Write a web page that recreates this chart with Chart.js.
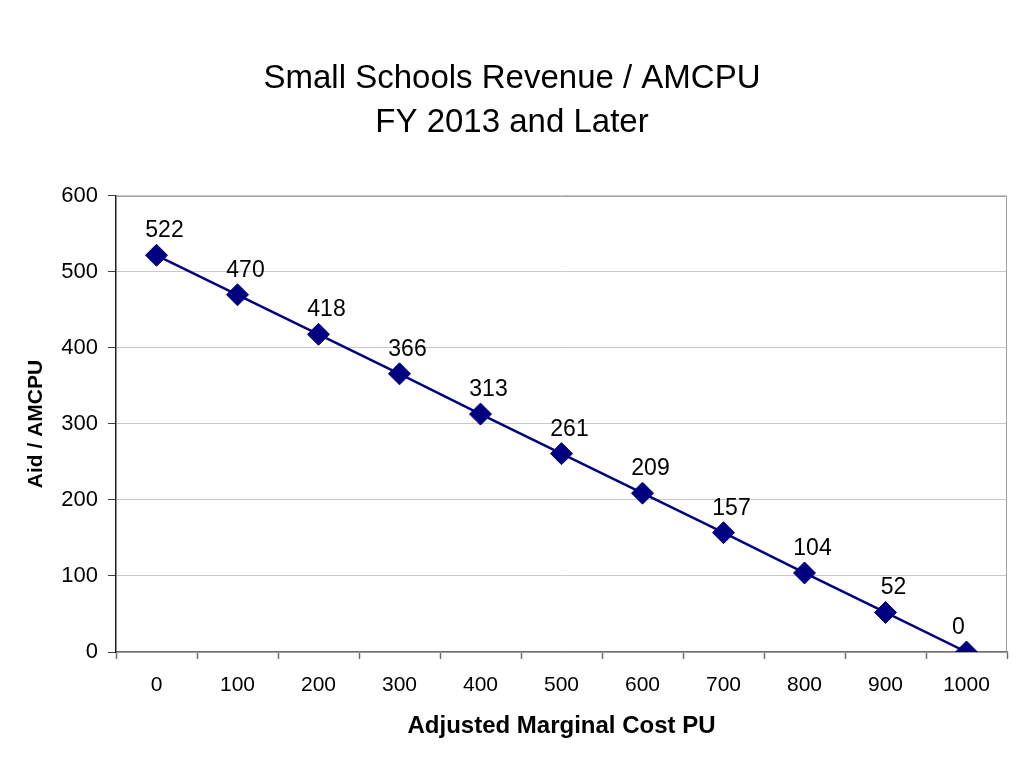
<!DOCTYPE html>
<html>
<head>
    <title>Small Schools Revenue / AMCPU</title>
    <style>
        html, body { margin: 0; padding: 0; background: #fff; }
        #wrap { width: 1024px; height: 768px; }
    </style>
</head>
<body>
    <div id="wrap"><canvas id="amcpuChart" width="1024" height="768"></canvas></div>

    <script src="https://cdn.jsdelivr.net/npm/chart.js"></script>
    <script>
        // values
        const costLabels = ['0', '100', '200', '300', '400', '500', '600', '700', '800', '900', '1000'];
        const aidValues = [522, 470, 418, 366, 313, 261, 209, 157, 104, 52, 0];
        const titleLines = ['Small Schools Revenue / AMCPU', 'FY 2013 and Later'];

        const FONT = '"Liberation Sans", Arial, sans-serif';

        // gray box round the plot area (top and right sides show)
        const plotBorder = {
            id: 'plotBorder',
            beforeDatasetsDraw(chart) {
                const { ctx, chartArea: a } = chart;
                ctx.save();
                ctx.strokeStyle = '#a0a0a0';
                ctx.lineWidth = 1;
                ctx.beginPath();
                ctx.moveTo(a.left, a.top + 0.5);
                ctx.lineTo(a.right - 0.5, a.top + 0.5);
                ctx.lineTo(a.right - 0.5, a.bottom);
                ctx.stroke();
                ctx.restore();
            }
        };

        // value labels above each marker
        const valueLabels = {
            id: 'valueLabels',
            afterDatasetsDraw(chart) {
                const { ctx } = chart;
                const meta = chart.getDatasetMeta(0);
                const data = chart.data.datasets[0].data;
                ctx.save();
                ctx.font = '23px ' + FONT;
                ctx.fillStyle = '#000';
                ctx.textAlign = 'center';
                ctx.textBaseline = 'alphabetic';
                meta.data.forEach((pt, i) => {
                    const dx = i === meta.data.length - 1 ? -8 : 8;
                    ctx.fillText(String(data[i]), pt.x + dx, pt.y - 18);
                });
                ctx.restore();
            }
        };

        const ctx = document.getElementById('amcpuChart').getContext('2d');
        new Chart(ctx, {
            type: 'line',
            data: {
                labels: costLabels,
                datasets: [{
                    label: 'Aid / AMCPU',
                    data: aidValues,
                    borderColor: '#000080',
                    backgroundColor: '#000080',
                    borderWidth: 2.5,
                    pointStyle: 'rectRot',
                    pointRadius: 11,
                    pointBorderWidth: 1,
                    pointBackgroundColor: '#000080',
                    pointBorderColor: '#000080',
                    tension: 0,
                    fill: false
                }]
            },
            options: {
                responsive: false,
                animation: false,
                layout: { padding: { left: 17, right: 17, top: 0, bottom: 0 } },
                plugins: {
                    legend: { display: false },
                    tooltip: { enabled: false },
                    title: {
                        display: true,
                        text: titleLines,
                        color: '#000',
                        font: { family: FONT, size: 33, weight: 'normal', lineHeight: 1.333 },
                        padding: { top: 57, bottom: 51 }
                    }
                },
                scales: {
                    x: {
                        offset: true,
                        grid: {
                            offset: true,
                            drawOnChartArea: false,
                            drawTicks: true,
                            tickLength: 7,
                            tickColor: '#707070',
                            tickWidth: 1.5
                        },
                        border: { color: '#707070', width: 1.5 },
                        ticks: {
                            color: '#000',
                            font: { family: FONT, size: 21 },
                            padding: 14,
                            maxRotation: 0
                        },
                        title: {
                            display: true,
                            text: 'Adjusted Marginal Cost PU',
                            color: '#000',
                            font: { family: FONT, size: 24, weight: 'bold' },
                            padding: { top: 0, bottom: 27 }
                        },
                        afterFit(scale) { scale.height = 116; }
                    },
                    y: {
                        min: 0,
                        max: 600,
                        ticks: {
                            stepSize: 100,
                            color: '#000',
                            font: { family: FONT, size: 22 },
                            padding: 10
                        },
                        grid: {
                            color: '#c8c8c8',
                            lineWidth: 1,
                            tickLength: 8,
                            tickColor: '#404040',
                            drawTicks: true
                        },
                        border: { color: '#202020', width: 1.5 },
                        title: {
                            display: true,
                            text: 'Aid / AMCPU',
                            color: '#000',
                            font: { family: FONT, size: 21, weight: 'bold' },
                            padding: { top: 7, bottom: 0 }
                        },
                        afterFit(scale) { scale.width = 99; }
                    }
                }
            },
            plugins: [plotBorder, valueLabels]
        });
    </script>
</body>
</html>
